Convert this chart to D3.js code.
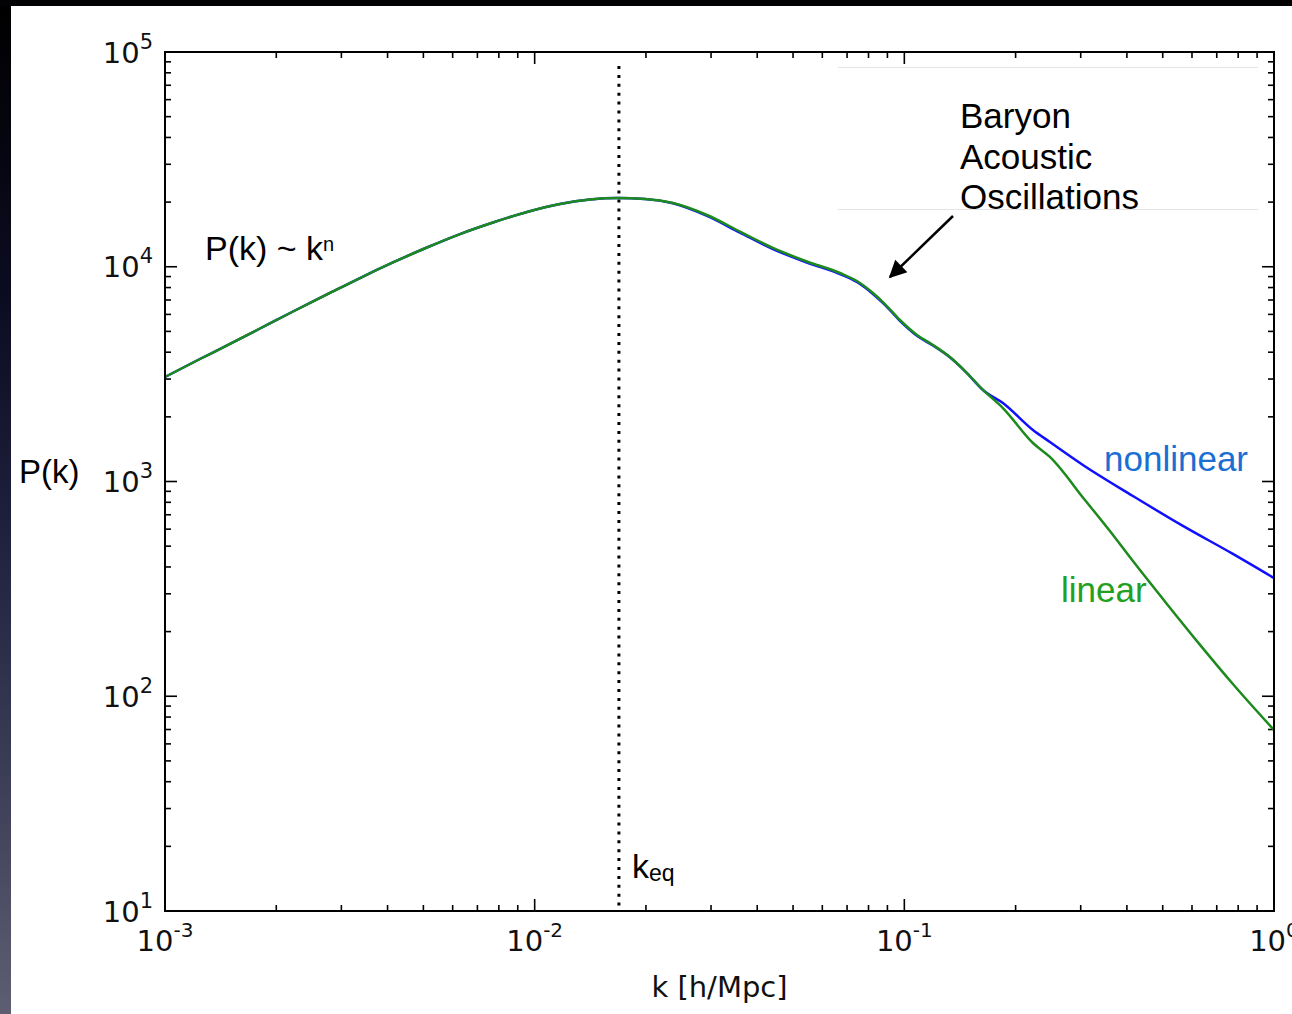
<!DOCTYPE html>
<html>
<head>
<meta charset="utf-8">
<script src="https://cdn.jsdelivr.net/npm/d3@7"></script>
<style>
  html, body { margin: 0; padding: 0; background: #fff; overflow: hidden; }
  svg { display: block; }
</style>
</head>
<body>
<script>
// Linear matter power spectrum, k in h/Mpc, P(k) in (Mpc/h)^3
const kLinear = [0.001, 0.001243, 0.001472, 0.001807, 0.00222, 0.002743, 0.003369, 0.004137,
  0.005111, 0.006281, 0.007714, 0.009532, 0.01171, 0.01411, 0.0168, 0.01988, 0.02366, 0.02925,
  0.03592, 0.04411, 0.05451, 0.06695, 0.07441, 0.08226, 0.08862, 0.0973, 0.1082, 0.1195, 0.1328,
  0.1477, 0.1632, 0.1848, 0.2228, 0.2476, 0.308, 0.3598, 0.4153, 0.5132, 0.6317, 0.774, 1.0];
const pLinear = [3066, 3719, 4299, 5158, 6189, 7427, 8863, 10470,
  12290, 14200, 16070, 17990, 19600, 20570, 20900, 20680, 19810, 17420,
  14590, 12230, 10580, 9352, 8581, 7548, 6706, 5649, 4810, 4322, 3799,
  3200, 2668, 2199, 1511, 1301, 820, 588, 426, 269, 173, 114, 69.6];

// Nonlinear power spectrum
const kNonlinear = [0.001, 0.001243, 0.001472, 0.001807, 0.00222, 0.002743, 0.003369, 0.004137,
  0.005111, 0.006281, 0.007714, 0.009532, 0.01171, 0.01411, 0.0168, 0.01988, 0.02366, 0.02925,
  0.03592, 0.04411, 0.05451, 0.06695, 0.07441, 0.08226, 0.08862, 0.0973, 0.1082, 0.1195, 0.1328,
  0.1477, 0.1632, 0.1848, 0.2228, 0.2476, 0.3041, 0.4153, 0.567, 0.774, 1.0];
const pNonlinear = [3066, 3719, 4299, 5158, 6189, 7427, 8863, 10470,
  12290, 14200, 16070, 17990, 19600, 20570, 20900, 20680, 19750, 17250,
  14420, 12090, 10460, 9250, 8490, 7470, 6640, 5600, 4770, 4300, 3790,
  3200, 2668, 2320, 1737, 1527, 1194, 856, 621, 460, 355];

// Axis decades (exponents) for tick labels
const xExponents = [-3, -2, -1, 0];
const yExponents = [1, 2, 3, 4, 5];

// Matter-radiation equality scale
const kEq = 0.0169;

const W = 1292, H = 1014;
const M = { left: 165, right: 1274, top: 52, bottom: 911 };

const svg = d3.select("body").append("svg")
  .attr("width", W).attr("height", H);

// Slide backdrop: dark strip on the left and along the top
const defs = svg.append("defs");
const grad = defs.append("linearGradient").attr("id", "edge")
  .attr("x1", 0).attr("y1", 0).attr("x2", 0).attr("y2", 1);
[[0, "#000000"], [0.3, "#0c0c22"], [0.5, "#1d1e3a"], [0.75, "#3a3b55"], [1, "#5e5e72"]]
  .forEach(([o, c]) => grad.append("stop").attr("offset", o).attr("stop-color", c));

svg.append("rect").attr("width", W).attr("height", H).attr("fill", "#ffffff");
svg.append("rect").attr("x", 0).attr("y", 0).attr("width", 11).attr("height", H).attr("fill", "url(#edge)");
svg.append("rect").attr("x", 0).attr("y", 0).attr("width", W).attr("height", 6).attr("fill", "#020205");

const x = d3.scaleLog().domain([1e-3, 1]).range([M.left, M.right]);
const y = d3.scaleLog().domain([10, 1e5]).range([M.bottom, M.top]);

// Faint outline of the annotation box
const boxG = svg.append("g").attr("stroke", "#e4e4e4").attr("stroke-width", 1);
boxG.append("line").attr("x1", 838).attr("x2", 1258).attr("y1", 67.5).attr("y2", 67.5);
boxG.append("line").attr("x1", 838).attr("x2", 1258).attr("y1", 209.5).attr("y2", 209.5);

// Ticks (inward, all four sides)
const majorX = xExponents.map(e => Math.pow(10, e));
const minorX = [];
xExponents.slice(0, -1).forEach(e => { for (let m = 2; m <= 9; m++) minorX.push(m * Math.pow(10, e)); });
const majorY = yExponents.map(e => Math.pow(10, e));
const minorY = [];
yExponents.slice(0, -1).forEach(e => { for (let m = 2; m <= 9; m++) minorY.push(m * Math.pow(10, e)); });

const tickG = svg.append("g").attr("stroke", "#000").attr("stroke-width", 1.6);
function xTicks(vals, len) {
  vals.forEach(v => {
    const px = x(v);
    tickG.append("line").attr("x1", px).attr("x2", px).attr("y1", M.bottom).attr("y2", M.bottom - len);
    tickG.append("line").attr("x1", px).attr("x2", px).attr("y1", M.top).attr("y2", M.top + len);
  });
}
function yTicks(vals, len) {
  vals.forEach(v => {
    const py = y(v);
    tickG.append("line").attr("y1", py).attr("y2", py).attr("x1", M.left).attr("x2", M.left + len);
    tickG.append("line").attr("y1", py).attr("y2", py).attr("x1", M.right).attr("x2", M.right - len);
  });
}
xTicks(majorX, 12); xTicks(minorX, 6);
yTicks(majorY, 12); yTicks(minorY, 6);

// Tick labels
const tickFont = "'DejaVu Sans', sans-serif";
xExponents.forEach(e => {
  const t = svg.append("text")
    .attr("x", x(Math.pow(10, e))).attr("y", M.bottom + 40)
    .attr("text-anchor", "middle").attr("font-family", tickFont)
    .attr("font-size", 29).attr("fill", "#111");
  t.append("tspan").text("10");
  t.append("tspan").attr("dy", -14).attr("font-size", 20).text(String(e));
});
yExponents.forEach(e => {
  const t = svg.append("text")
    .attr("x", 153).attr("y", y(Math.pow(10, e)) + 10.5)
    .attr("text-anchor", "end").attr("font-family", tickFont)
    .attr("font-size", 29).attr("fill", "#111");
  t.append("tspan").text("10");
  t.append("tspan").attr("dy", -14).attr("font-size", 21).text(String(e));
});

// Axis title
svg.append("text").attr("x", (M.left + M.right) / 2).attr("y", 997)
  .attr("text-anchor", "middle").attr("font-family", tickFont)
  .attr("font-size", 29).attr("fill", "#111").text("k [h/Mpc]");

// Equality scale marker
svg.append("line")
  .attr("x1", x(kEq)).attr("x2", x(kEq)).attr("y1", 66).attr("y2", M.bottom - 2)
  .attr("stroke", "#000").attr("stroke-width", 3).attr("stroke-dasharray", "3 5.9");

// Curves
const line = d3.line().x(d => x(d[0])).y(d => y(d[1])).curve(d3.curveMonotoneX);
svg.append("path").datum(kNonlinear.map((k, i) => [k, pNonlinear[i]]))
  .attr("d", line).attr("fill", "none").attr("stroke", "#1010ff").attr("stroke-width", 2.5);
svg.append("path").datum(kLinear.map((k, i) => [k, pLinear[i]]))
  .attr("d", line).attr("fill", "none").attr("stroke", "#1d8a1d").attr("stroke-width", 2.5);

// Frame
svg.append("rect").attr("x", M.left).attr("y", M.top)
  .attr("width", M.right - M.left).attr("height", M.bottom - M.top)
  .attr("fill", "none").attr("stroke", "#000").attr("stroke-width", 2);

// Annotations
const noteFont = "'Liberation Sans', Arial, Helvetica, sans-serif";
const pk = svg.append("text").attr("x", 205).attr("y", 260)
  .attr("font-family", noteFont).attr("font-size", 34).attr("fill", "#000");
pk.append("tspan").text("P(k) ~ k");
pk.append("tspan").attr("dy", -9).attr("font-size", 20).text("n");

svg.append("text").attr("x", 19).attr("y", 483)
  .attr("font-family", noteFont).attr("font-size", 33).attr("fill", "#000").text("P(k)");

["Baryon", "Acoustic", "Oscillations"].forEach((s, i) => {
  svg.append("text").attr("x", 960).attr("y", 128 + i * 40.5)
    .attr("font-family", noteFont).attr("font-size", 35).attr("fill", "#000").text(s);
});

svg.append("text").attr("x", 1104).attr("y", 471)
  .attr("font-family", noteFont).attr("font-size", 35).attr("fill", "#1a6fd2").text("nonlinear");
svg.append("text").attr("x", 1061).attr("y", 602)
  .attr("font-family", noteFont).attr("font-size", 35).attr("fill", "#22a022").text("linear");

const keq = svg.append("text").attr("x", 632).attr("y", 878)
  .attr("font-family", noteFont).attr("font-size", 34).attr("fill", "#000");
keq.append("tspan").text("k");
keq.append("tspan").attr("dy", 3).attr("font-size", 23).text("eq");

// Arrow pointing at the BAO feature
defs.append("marker").attr("id", "head").attr("viewBox", "0 0 10 10")
  .attr("refX", 9).attr("refY", 5).attr("markerWidth", 8).attr("markerHeight", 7)
  .attr("markerUnits", "strokeWidth").attr("orient", "auto")
  .append("path").attr("d", "M0,0 L10,5 L0,10 z").attr("fill", "#000");
svg.append("line").attr("x1", 953).attr("y1", 216).attr("x2", 890).attr("y2", 277)
  .attr("stroke", "#000").attr("stroke-width", 2.5).attr("marker-end", "url(#head)");
</script>
</body>
</html>
